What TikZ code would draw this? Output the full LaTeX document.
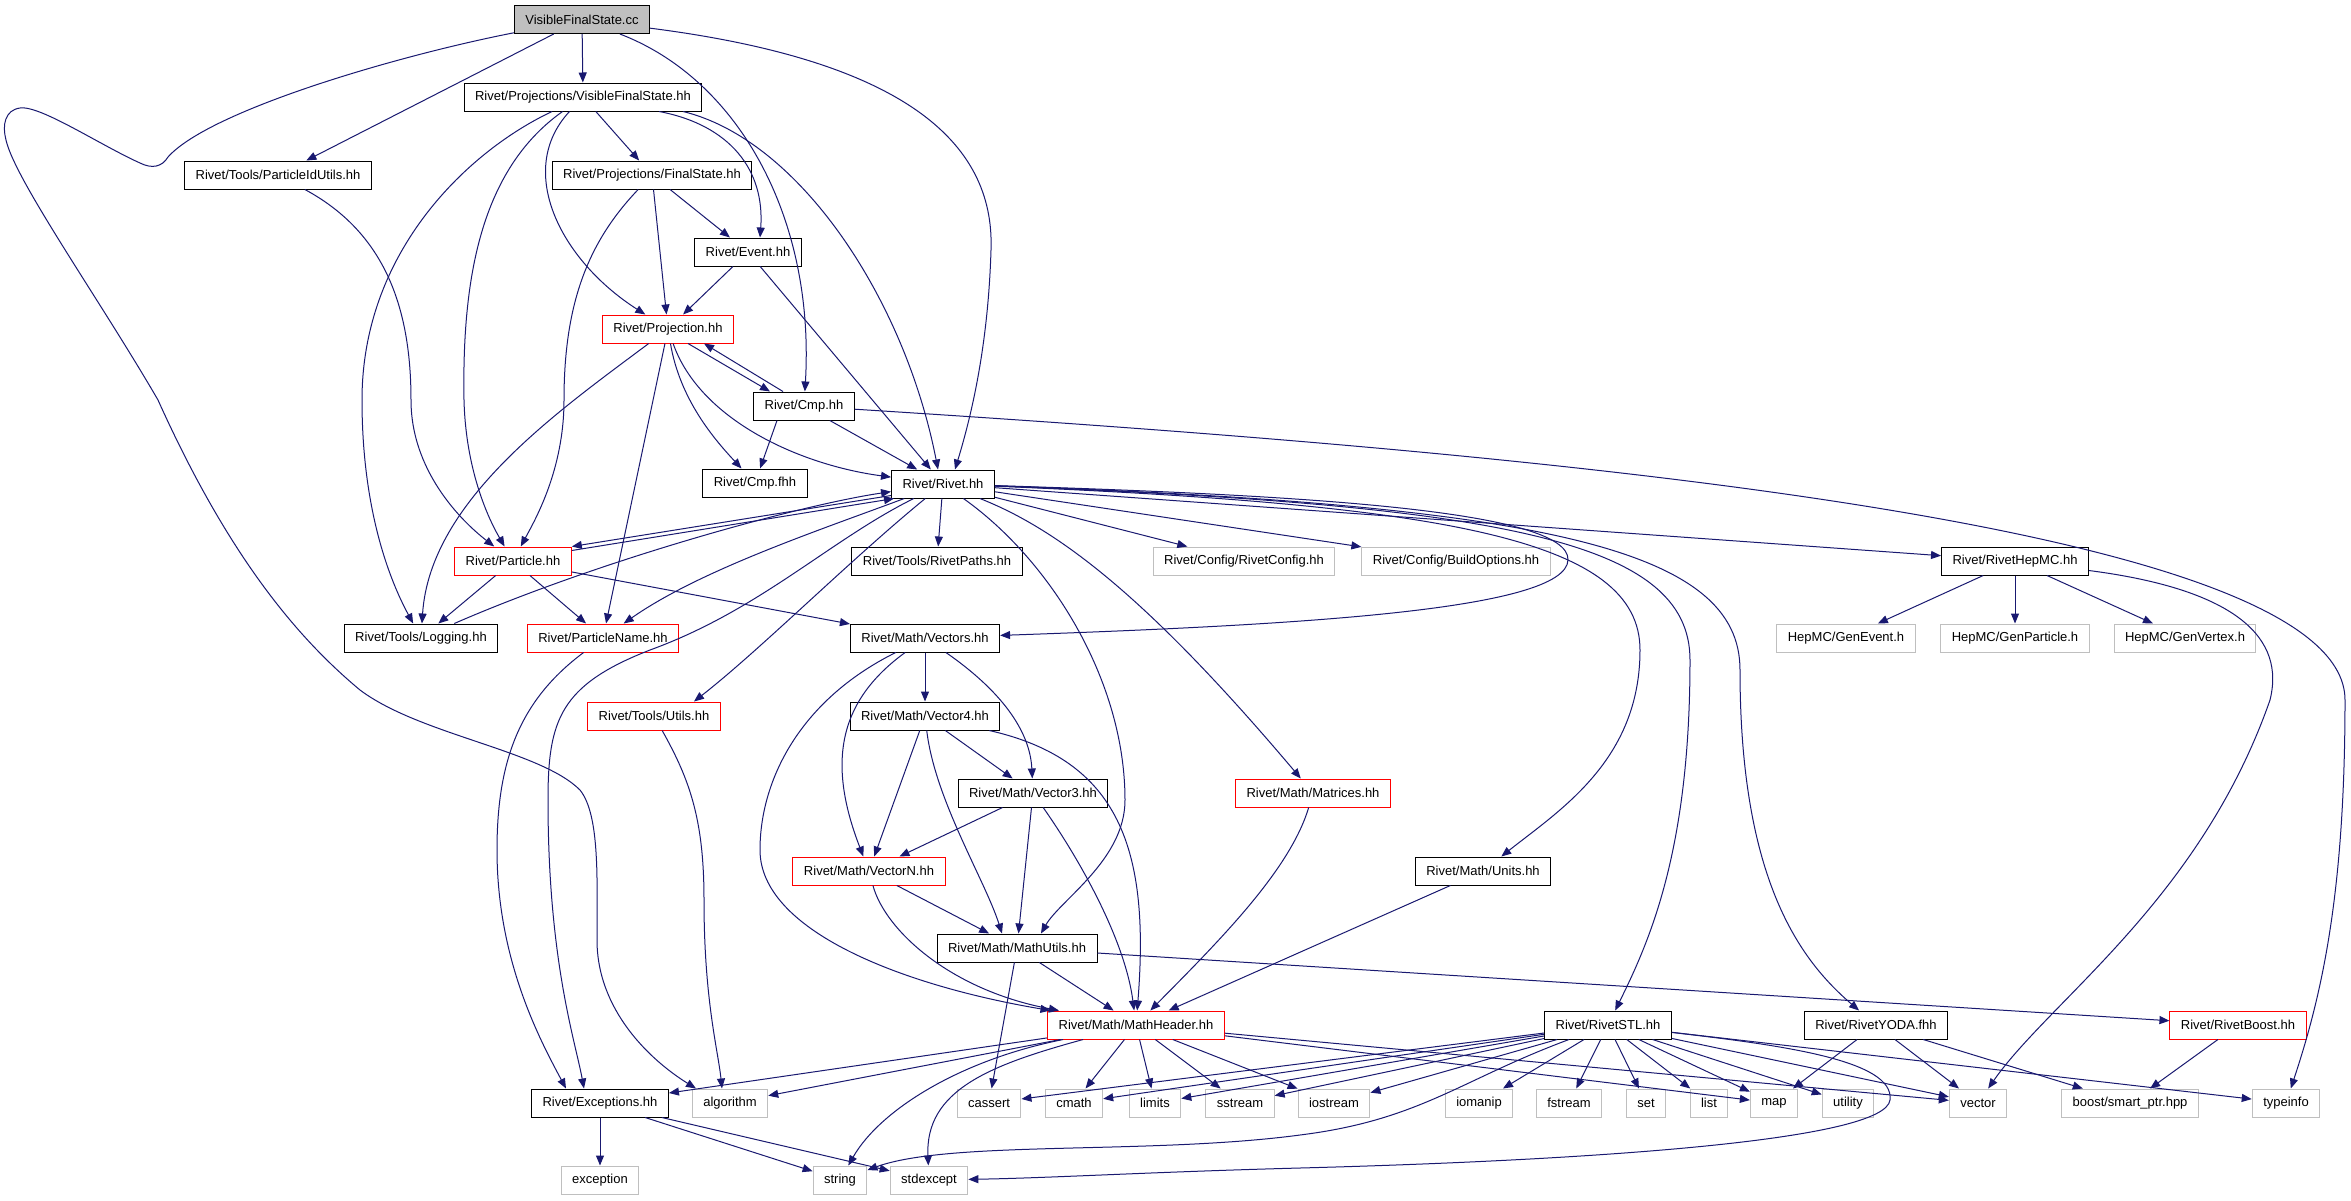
\documentclass[tikz,border=0pt]{standalone}
\usepackage{fontspec}
\setmainfont{Liberation Sans}
\usetikzlibrary{arrows.meta}
\definecolor{edgeblue}{HTML}{191970}
\definecolor{sysgray}{HTML}{BFBFBF}
\tikzset{
	hdr/.style={draw=black, line width=1pt, rectangle, inner xsep=11pt, inner ysep=0pt, minimum height=28pt, font=\fontsize{13}{15}\selectfont},
	hdrtrunc/.style={hdr, draw=red},
	hdrsys/.style={hdr, draw=sysgray},
	hdrmain/.style={hdr, fill=sysgray},
	incl/.style={draw=edgeblue, line width=1pt, -{Triangle[length=10pt,width=8pt]}}
}

\begin{document}
\begin{tikzpicture}[x=1pt,y=-1pt]
				\path[use as bounding box, fill=white] (0,0) rectangle (2351,1200);
				
				\node[hdrmain] (cc) at (582,19.5) {VisibleFinalState.cc};
				\node[hdr] (vfs) at (583,97) {Rivet/Projections/VisibleFinalState.hh};
				\node[hdr] (pidu) at (278,175) {Rivet/Tools/ParticleIdUtils.hh};
				\node[hdr] (fs) at (652,175) {Rivet/Projections/FinalState.hh};
				\node[hdr] (event) at (748,252) {Rivet/Event.hh};
				\node[hdrtrunc] (proj) at (668,329) {Rivet/Projection.hh};
				\node[hdr] (cmp) at (804,406) {Rivet/Cmp.hh};
				\node[hdr] (cmpf) at (755,483) {Rivet/Cmp.fhh};
				\node[hdr] (rivet) at (943,484) {Rivet/Rivet.hh};
				\node[hdrtrunc] (particle) at (513,561) {Rivet/Particle.hh};
				\node[hdr] (paths) at (937,561) {Rivet/Tools/RivetPaths.hh};
				\node[hdrsys] (rconf) at (1244,561) {Rivet/Config/RivetConfig.hh};
				\node[hdrsys] (bopt) at (1456,561) {Rivet/Config/BuildOptions.hh};
				\node[hdr] (hepmc) at (2015,561) {Rivet/RivetHepMC.hh};
				\node[hdr] (logging) at (421,638) {Rivet/Tools/Logging.hh};
				\node[hdrtrunc] (pname) at (603,638) {Rivet/ParticleName.hh};
				\node[hdr] (vectors) at (925,638) {Rivet/Math/Vectors.hh};
				\node[hdrsys] (genev) at (1846,638) {HepMC/GenEvent.h};
				\node[hdrsys] (genpart) at (2015,638) {HepMC/GenParticle.h};
				\node[hdrsys] (genvtx) at (2185,638) {HepMC/GenVertex.h};
				\node[hdrtrunc] (utils) at (654,716) {Rivet/Tools/Utils.hh};
				\node[hdr] (vec4) at (925,716) {Rivet/Math/Vector4.hh};
				\node[hdr] (vec3) at (1033,793) {Rivet/Math/Vector3.hh};
				\node[hdrtrunc] (matrices) at (1313,793) {Rivet/Math/Matrices.hh};
				\node[hdrtrunc] (vecn) at (869,871) {Rivet/Math/VectorN.hh};
				\node[hdr] (units) at (1483,871) {Rivet/Math/Units.hh};
				\node[hdr] (mutils) at (1017,948) {Rivet/Math/MathUtils.hh};
				\node[hdrtrunc] (mheader) at (1136,1025) {Rivet/Math/MathHeader.hh};
				\node[hdr] (rstl) at (1608,1025) {Rivet/RivetSTL.hh};
				\node[hdr] (ryoda) at (1876,1025) {Rivet/RivetYODA.fhh};
				\node[hdrtrunc] (rboost) at (2238,1025) {Rivet/RivetBoost.hh};
				
				\node[hdr] (exceptions) at (600,1103) {Rivet/Exceptions.hh};
				\node[hdrsys] (algorithm) at (730,1103) {algorithm};
				\node[hdrsys] (cassert) at (989,1103) {cassert};
				\node[hdrsys] (cmath) at (1074,1103) {cmath};
				\node[hdrsys] (limits) at (1155,1103) {limits};
				\node[hdrsys] (sstream) at (1240,1103) {sstream};
				\node[hdrsys] (iostream) at (1334,1103) {iostream};
				\node[hdrsys] (iomanip) at (1479,1103) {iomanip};
				\node[hdrsys] (fstream) at (1569,1103) {fstream};
				\node[hdrsys] (set) at (1646,1103) {set};
				\node[hdrsys] (list) at (1709,1103) {list};
				\node[hdrsys] (map) at (1774,1103) {map};
				\node[hdrsys] (utility) at (1848,1103) {utility};
				\node[hdrsys] (vector) at (1978,1103) {vector};
				\node[hdrsys] (smartptr) at (2130,1103) {boost/smart\_ptr.hpp};
				\node[hdrsys] (typeinfo) at (2286,1103) {typeinfo};
				\node[hdrsys] (exception) at (600,1180) {exception};
				\node[hdrsys] (string) at (840,1180) {string};
				\node[hdrsys] (stdexcept) at (929,1180) {stdexcept};
				
				\draw[incl] (cc) -- (vfs);
				\draw[incl] (cc) -- (pidu);
				\draw[incl] (cc) .. controls (400,55) and (210,110) .. (168,157) .. controls (162,167) and (152,169) .. (140,163) .. controls (100,145) and (40,105) .. (20,108) .. controls (5,110) and (2,125) .. (6,140) .. controls (15,180) and (100,300) .. (158,400) .. controls (230,560) and (300,640) .. (360,690) .. controls (420,735) and (540,750) .. (580,790) .. controls (600,815) and (597,880) .. (597,940) .. controls (597,1010) and (650,1060) .. ([xshift=-34pt]algorithm.north);
				\draw[incl] (cc) .. controls (740,80) and (815,220) .. (cmp);
				\draw[incl] (cc) .. controls (900,60) and (995,140) .. (991,250) .. controls (988,350) and (970,420) .. ([xshift=12pt]rivet.north);
				
				\draw[incl] (vfs) .. controls (470,150) and (362,250) .. (362,400) .. controls (362,520) and (395,590) .. (logging);
				\draw[incl] (vfs) .. controls (480,170) and (462,280) .. (464,400) .. controls (466,480) and (495,530) .. (particle);
				\draw[incl] (vfs) .. controls (515,170) and (560,260) .. (proj);
				\draw[incl] (vfs) -- (fs);
				\draw[incl] (vfs) .. controls (730,125) and (765,170) .. ([xshift=12pt]event.north);
				\draw[incl] ([xshift=100pt]vfs.south) .. controls (800,140) and (905,300) .. ([xshift=-5pt]rivet.north);
				
				\draw[incl] (pidu) .. controls (380,230) and (411,300) .. (411,400) .. controls (411,470) and (460,520) .. (particle);
				\draw[incl] (fs) .. controls (590,240) and (564,300) .. (564,400) .. controls (564,470) and (535,520) .. (particle);
				\draw[incl] (fs) -- (proj);
				\draw[incl] (fs) -- (event);
				\draw[incl] (event) -- (proj);
				\draw[incl] (event) -- (rivet);
				
				\draw[incl] (proj) .. controls (560,410) and (430,500) .. (logging);
				\draw[incl] (proj) -- (pname);
				\draw[incl] (proj) .. controls (680,400) and (715,440) .. (cmpf);
				\draw[incl] (proj) .. controls (700,420) and (800,465) .. (rivet);
				\draw[incl] ([xshift=20pt]proj.south) -- ([xshift=-34pt]cmp.north);
				\draw[incl] ([xshift=-21pt]cmp.north) -- ([xshift=36pt]proj.south);
				
				\draw[incl] ([xshift=-27pt]cmp.south) -- (cmpf);
				\draw[incl] (cmp) -- (rivet);
				\draw[incl] (cmp) .. controls (1500,450) and (2345,520) .. (2345,700) .. controls (2345,900) and (2320,1000) .. (typeinfo);
				
				\draw[incl] ([yshift=3pt]rivet.south west) -- (particle.north east);
				\draw[incl] ([yshift=-4pt]particle.north east) -- ([xshift=3pt]rivet.south west);
				\draw[incl] (logging) .. controls (600,560) and (800,505) .. (rivet);
				\draw[incl] (rivet) .. controls (820,530) and (700,570) .. (pname);
				\draw[incl] (rivet) .. controls (830,540) and (760,610) .. (650,650) .. controls (560,685) and (548,720) .. (548,800) .. controls (548,960) and (575,1040) .. ([xshift=-16pt]exceptions.north);
				\draw[incl] (rivet) .. controls (850,560) and (760,650) .. ([xshift=40pt]utils.north);
				\draw[incl] (rivet) -- (paths);
				\draw[incl] (rivet) .. controls (1050,560) and (1125,680) .. (1125,800) .. controls (1125,860) and (1060,900) .. ([xshift=24pt]mutils.north);
				\draw[incl] (rivet) .. controls (1060,530) and (1150,600) .. (matrices);
				\draw[incl] (rivet) -- (rconf);
				\draw[incl] (rivet) -- (bopt);
				\draw[incl] (rivet) -- (hepmc);
				\draw[incl] (rivet) .. controls (1300,495) and (1570,510) .. (1568,560) .. controls (1566,610) and (1300,625) .. (vectors);
				\draw[incl] (rivet) .. controls (1450,505) and (1640,540) .. (1640,650) .. controls (1640,760) and (1560,810) .. (units);
				\draw[incl] (rivet) .. controls (1500,505) and (1690,540) .. (1690,660) .. controls (1690,850) and (1650,940) .. (rstl);
				\draw[incl] (rivet) .. controls (1550,505) and (1740,550) .. (1740,670) .. controls (1740,880) and (1800,960) .. (ryoda);
				
				\draw[incl] (particle) -- (logging);
				\draw[incl] (particle) -- (pname);
				\draw[incl] (particle) -- (vectors);
				\draw[incl] (pname) .. controls (520,700) and (497,760) .. (497,850) .. controls (497,960) and (540,1040) .. ([xshift=-34pt]exceptions.north);
				\draw[incl] (utils) .. controls (690,780) and (704,820) .. (704,900) .. controls (704,1000) and (718,1050) .. ([xshift=-8pt]algorithm.north);
				
				\draw[incl] (vectors) -- (vec4);
				\draw[incl] (vectors) .. controls (1000,690) and (1030,730) .. (vec3);
				\draw[incl] (vectors) .. controls (840,700) and (826,760) .. (vecn);
				\draw[incl] (vectors) .. controls (800,700) and (760,780) .. (760,850) .. controls (760,930) and (900,985) .. (mheader);
				\draw[incl] (vec4) -- (vec3);
				\draw[incl] (vec4) -- (vecn);
				\draw[incl] (vec4) .. controls (935,800) and (985,880) .. ([xshift=-15pt]mutils.north);
				\draw[incl] (vec4) .. controls (1120,760) and (1150,850) .. (mheader);
				\draw[incl] (vec3) -- (vecn);
				\draw[incl] (vec3) -- (mutils);
				\draw[incl] (vec3) .. controls (1080,860) and (1125,940) .. (mheader);
				\draw[incl] (vecn) -- (mutils);
				\draw[incl] (vecn) .. controls (885,930) and (950,990) .. (mheader);
				\draw[incl] (mutils) -- (mheader);
				\draw[incl] (mutils) -- (cassert);
				\draw[incl] (mutils) -- (rboost);
				\draw[incl] (matrices) .. controls (1290,870) and (1220,940) .. (mheader);
				\draw[incl] (units) -- (mheader);
				
				\draw[incl] (mheader) -- (exceptions);
				\draw[incl] (mheader) -- (algorithm);
				\draw[incl] (mheader) .. controls (960,1060) and (880,1110) .. (string);
				\draw[incl] (mheader) .. controls (990,1065) and (925,1090) .. (stdexcept);
				\draw[incl] (mheader) -- (cmath);
				\draw[incl] (mheader) -- (limits);
				\draw[incl] (mheader) -- (sstream);
				\draw[incl] (mheader) -- (iostream);
				\draw[incl] (mheader) -- (map);
				\draw[incl] (mheader) -- (vector);
				
				\draw[incl] (rstl) -- (cassert);
				\draw[incl] (rstl) -- (cmath);
				\draw[incl] (rstl) -- (limits);
				\draw[incl] (rstl) -- (sstream);
				\draw[incl] (rstl) -- (iostream);
				\draw[incl] (rstl) -- (iomanip);
				\draw[incl] (rstl) -- (fstream);
				\draw[incl] (rstl) -- (set);
				\draw[incl] (rstl) -- (list);
				\draw[incl] (rstl) -- (map);
				\draw[incl] (rstl) -- (utility);
				\draw[incl] (rstl) -- (vector);
				\draw[incl] (rstl) -- (typeinfo);
				\draw[incl] (rstl) .. controls (1460,1080) and (1420,1120) .. (1300,1135) .. controls (1150,1155) and (950,1140) .. (string);
				\draw[incl] (rstl) .. controls (1780,1045) and (1895,1060) .. (1890,1100) .. controls (1885,1140) and (1600,1160) .. (1300,1168) .. controls (1150,1172) and (1050,1178) .. (stdexcept);
				
				\draw[incl] (ryoda) -- (map);
				\draw[incl] (ryoda) -- (vector);
				\draw[incl] (ryoda) -- (smartptr);
				\draw[incl] (rboost) -- (smartptr);
				\draw[incl] (hepmc) -- (genev);
				\draw[incl] (hepmc) -- (genpart);
				\draw[incl] (hepmc) -- (genvtx);
				\draw[incl] (hepmc) .. controls (2240,590) and (2285,640) .. (2270,700) .. controls (2200,900) and (2050,1000) .. (vector);
				\draw[incl] (exceptions) -- (exception);
				\draw[incl] (exceptions) -- (string);
				\draw[incl] (exceptions) -- (stdexcept);
\end{tikzpicture}
\end{document}
